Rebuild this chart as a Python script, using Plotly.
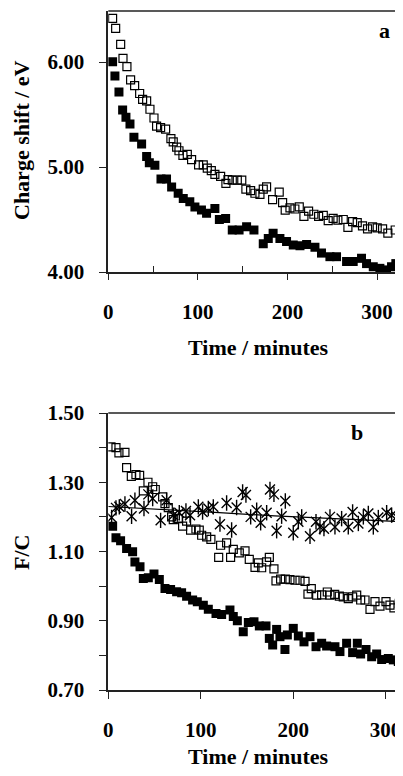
import plotly.graph_objects as go

# ---------- Panel a data ----------
a_open_t = [4.8, 8.2, 13.8, 16.4, 20.8, 24.9, 29.4, 35, 38.3, 42.8, 46.5, 51, 53.9, 58.4, 64,
            69.9, 72.5, 76.3, 78.9, 83.3, 88.2, 93, 100.8, 106, 110.5, 115, 119, 125.4, 131.3,
            133.6, 138.4, 144, 149, 153.6, 158.9, 163.7, 169.3, 173, 176.7, 183.4, 190.8, 194.6,
            197.5, 202.8, 208.3, 213.2, 218.4, 223.6, 229.5, 234.8, 240, 245.5, 251, 256.3,
            262.3, 267.5, 272.7, 277.9, 283.8, 289.4, 295, 300.2, 306.2, 312.1, 320.3]
a_open_v = [6.416, 6.32, 6.168, 6.035, 5.956, 5.83, 5.775, 5.70, 5.644, 5.63, 5.55, 5.467, 5.39,
            5.375, 5.36, 5.27, 5.24, 5.19, 5.155, 5.11, 5.12, 5.07, 5.02, 5.02, 4.99, 4.965, 4.93,
            4.91, 4.845, 4.88, 4.876, 4.876, 4.876, 4.79, 4.775, 4.75, 4.74, 4.79, 4.81, 4.69,
            4.76, 4.66, 4.59, 4.61, 4.60, 4.62, 4.53, 4.58, 4.55, 4.53, 4.54, 4.49, 4.51, 4.495,
            4.50, 4.425, 4.48, 4.47, 4.44, 4.41, 4.43, 4.42, 4.41, 4.37, 4.40]
a_fill_t = [4.8, 7.4, 11.9, 16, 19.7, 24.2, 28.6, 37.2, 42.8, 45.8, 52, 58.8, 65, 70.7, 78, 83.7,
            91, 96.7, 104, 109.7, 119, 124, 131, 138.4, 146, 154.4, 162.6, 173, 178.6, 184,
            191.6, 199, 206.5, 214, 221.4, 230.7, 238, 247.4, 254.8, 266, 273.4, 282.7, 288.3,
            295.8, 303.2, 310.6, 316.2, 321]
a_fill_v = [6.003, 5.867, 5.714, 5.543, 5.473, 5.41, 5.283, 5.22, 5.10, 5.04, 5.016, 4.886, 4.886,
            4.81, 4.75, 4.70, 4.67, 4.62, 4.59, 4.56, 4.606, 4.50, 4.51, 4.40, 4.40, 4.43, 4.40,
            4.27, 4.32, 4.37, 4.32, 4.29, 4.257, 4.25, 4.263, 4.235, 4.18, 4.146, 4.146, 4.10,
            4.10, 4.13, 4.08, 4.05, 4.035, 4.02, 4.05, 4.08]

# ---------- Panel b data ----------
b_open_t = [2.9, 8.3, 11.5, 18, 19.8, 24.9, 29.9, 33.9, 37.9, 42.9, 48, 50.8, 58.8, 61.3, 64.9,
            68.5, 70.3, 75.7, 80.4, 84.7, 89, 94.8, 98.4, 101, 106.4, 111, 119.4, 121.5, 128,
            132.3, 135.2, 141.7, 147.9, 152.5, 158.7, 162.3, 165.9, 171.3, 174.2, 179.2, 181.4,
            186.4, 191.5, 196.5, 202, 207.4, 212.8, 216, 219.6, 225.4, 230.8, 236.9, 239.8,
            244.9, 249.9, 254.2, 259.6, 264.3, 268.7, 273, 277.7, 283.1, 288.5, 293.9, 300.4,
            304.7, 309, 314.8, 318.4]
b_open_v = [1.402, 1.40, 1.385, 1.386, 1.342, 1.317, 1.322, 1.32, 1.275, 1.30, 1.287, 1.279, 1.258,
            1.238, 1.227, 1.20, 1.192, 1.195, 1.173, 1.188, 1.162, 1.165, 1.162, 1.147, 1.142,
            1.135, 1.083, 1.118, 1.125, 1.083, 1.106, 1.096, 1.102, 1.077, 1.054, 1.067, 1.053,
            1.07, 1.083, 1.05, 1.015, 1.02, 1.02, 1.019, 1.017, 1.017, 1.014, 0.977, 0.993,
            0.974, 0.975, 0.983, 0.974, 0.976, 0.971, 0.969, 0.964, 0.969, 0.974, 0.96, 0.96,
            0.933, 0.955, 0.942, 0.955, 0.945, 0.937, 0.95, 0.916]
b_fill_t = [4.7, 8.3, 13.3, 19.8, 26.3, 28.8, 34.3, 37.9, 43.3, 49.4, 55.2, 61.3, 67.4, 73.9,
            79.3, 84.7, 91.2, 96.3, 102.8, 108.2, 116.5, 122.6, 131.6, 135.2, 139.6, 146, 151.5,
            157.6, 163.4, 170.6, 174.2, 177.8, 182.1, 185.7, 191.1, 193.7, 200.1, 205.6, 211.7,
            218.2, 224.7, 230.8, 236.2, 245.2, 250.6, 257.8, 264.3, 269.4, 273, 278.8, 284.9,
            290.3, 295.7, 302.9, 308.3, 313.7, 318.4]
b_fill_v = [1.173, 1.14, 1.131, 1.109, 1.099, 1.07, 1.056, 1.022, 1.024, 1.035, 1.019, 0.993,
            0.99, 0.984, 0.981, 0.971, 0.96, 0.955, 0.945, 0.933, 0.921, 0.918, 0.931, 0.912,
            0.90, 0.868, 0.895, 0.897, 0.885, 0.885, 0.849, 0.83, 0.875, 0.854, 0.817, 0.859,
            0.878, 0.856, 0.839, 0.854, 0.825, 0.835, 0.827, 0.825, 0.811, 0.835, 0.808, 0.835,
            0.804, 0.817, 0.796, 0.804, 0.788, 0.791, 0.787, 0.782, 0.772]
b_star_t = [3.6, 8.3, 11.9, 18, 25.2, 28.8, 38.6, 43.3, 48, 56.6, 63.1, 70.3, 76.8, 84, 88.4,
            97.4, 102, 108.2, 113.6, 120.8, 128, 133.4, 138.8, 145.3, 148.9, 154, 160.5, 164.8,
            171.3, 174.9, 179.2, 182.1, 187.5, 191.5, 200.1, 205.6, 209.2, 218.2, 224.7, 229,
            233.3, 239.8, 245.2, 252.4, 259.6, 264.3, 270.5, 275.9, 281.3, 286.7, 292.1, 301.1,
            306.5, 311.9, 317.3]
b_star_v = [1.198, 1.226, 1.229, 1.237, 1.202, 1.248, 1.224, 1.265, 1.253, 1.19, 1.248, 1.205,
            1.212, 1.217, 1.205, 1.229, 1.214, 1.224, 1.229, 1.179, 1.24, 1.162, 1.227, 1.272,
            1.263, 1.20, 1.219, 1.183, 1.212, 1.279, 1.265, 1.16, 1.202, 1.246, 1.154, 1.186,
            1.20, 1.144, 1.186, 1.171, 1.166, 1.20, 1.171, 1.195, 1.171, 1.214, 1.181, 1.20,
            1.21, 1.171, 1.198, 1.212, 1.205, 1.20, 1.195]
b_fit_t = [0, 60, 120, 180, 240, 320]
b_fit_v = [1.230, 1.222, 1.212, 1.203, 1.195, 1.186]

a_yticks = [4.0, 5.0, 6.0]
a_yticktext = ["4.00", "5.00", "6.00"]
b_yticks = [0.7, 0.9, 1.1, 1.3, 1.5]
b_yticktext = ["0.70", "0.90", "1.10", "1.30", "1.50"]
x_ticks = [0, 100, 200, 300]

FONT = "Liberation Serif"
OFF = 8                      # page body margin
W, H = 403 - OFF, 776 - OFF  # figure size so that its right/bottom edge meets the window edge

def fx(px):
    return (px - OFF) / W

def fy(py):
    return 1 - (py - OFF) / H

LEFT = fx(108.3)

fig = go.Figure()
sq_open = dict(symbol="square-open", size=8, color="black", line=dict(width=1.2, color="black"))
sq_fill = dict(symbol="square", size=9, color="black", line=dict(width=0))

fig.add_trace(go.Scatter(x=a_open_t, y=a_open_v, mode="markers", marker=sq_open, xaxis="x", yaxis="y"))
fig.add_trace(go.Scatter(x=a_fill_t, y=a_fill_v, mode="markers", marker=sq_fill, xaxis="x", yaxis="y"))

fig.add_trace(go.Scatter(x=b_fit_t, y=b_fit_v, mode="lines", line=dict(color="black", width=1.2),
                         xaxis="x2", yaxis="y2"))
fig.add_trace(go.Scatter(x=b_open_t, y=b_open_v, mode="markers", marker=sq_open, xaxis="x2", yaxis="y2"))
fig.add_trace(go.Scatter(x=b_fill_t, y=b_fill_v, mode="markers", marker=sq_fill, xaxis="x2", yaxis="y2"))
fig.add_trace(go.Scatter(x=b_star_t, y=b_star_v, mode="markers",
                         marker=dict(symbol="x-thin-open", size=10, color="black", line=dict(width=1.4, color="black")),
                         xaxis="x2", yaxis="y2"))
fig.add_trace(go.Scatter(x=b_star_t, y=b_star_v, mode="markers",
                         marker=dict(symbol="line-ns-open", size=11, color="black", line=dict(width=1.4, color="black")),
                         xaxis="x2", yaxis="y2"))

tickfont = dict(family=FONT, size=21, color="black", weight="bold")
axline = dict(showline=True, linecolor="#222", linewidth=1.5, showgrid=False, zeroline=False,
              automargin=False, ticks="outside", tickcolor="#222", tickwidth=1.2, tickfont=tickfont)

fig.update_layout(
    template="none",
    width=W, height=H, margin=dict(l=0, r=0, t=0, b=0, pad=0), autosize=False,
    paper_bgcolor="white", plot_bgcolor="white", showlegend=False,
    xaxis=dict(domain=[LEFT, 1], range=[0, 329], anchor="y", tickvals=x_ticks, ticklen=6,
               minor=dict(tickvals=[50, 150, 250], ticks="inside", ticklen=6, tickcolor="#222", tickwidth=1.2),
               ticklabelstandoff=14, **axline),
    yaxis=dict(domain=[fy(272), fy(11)], range=[4.0, 6.486], anchor="x", tickvals=a_yticks,
               ticktext=a_yticktext, ticklen=8, ticklabelstandoff=10, **axline),
    xaxis2=dict(domain=[LEFT, 1], range=[0, 318.8], anchor="y2", tickvals=x_ticks, ticklen=7,
                ticklabelstandoff=13, **axline),
    yaxis2=dict(domain=[fy(690), fy(413)], range=[0.7, 1.5], anchor="x2", tickvals=b_yticks,
                ticktext=b_yticktext, ticklen=8, ticklabelstandoff=10,
                minor=dict(dtick=0.1, tick0=0.7, ticks="outside", ticklen=8, tickcolor="#222", tickwidth=1.2),
                **axline),
)

# top border lines
for ytop in (fy(11), fy(413)):
    fig.add_shape(type="line", xref="paper", yref="paper", x0=LEFT, x1=1, y0=ytop, y1=ytop,
                  line=dict(color="#222", width=1.5))

lab = dict(family=FONT, size=22, color="black", weight="bold")
ann = [
    dict(text="Time / minutes", x=fx(259), y=fy(348)),
    dict(text="Time / minutes", x=fx(259), y=fy(756)),
    dict(text="Charge shift / eV", x=fx(21), y=fy(140), textangle=-90),
    dict(text="F/C", x=fx(21), y=fy(553), textangle=-90),
    dict(text="a", x=fx(384), y=fy(30)),
    dict(text="b", x=fx(357), y=fy(432)),
]
for a in ann:
    fig.add_annotation(xref="paper", yref="paper", showarrow=False, xanchor="center", yanchor="middle",
                       font=lab, **a)

fig.write_html("out.html")
